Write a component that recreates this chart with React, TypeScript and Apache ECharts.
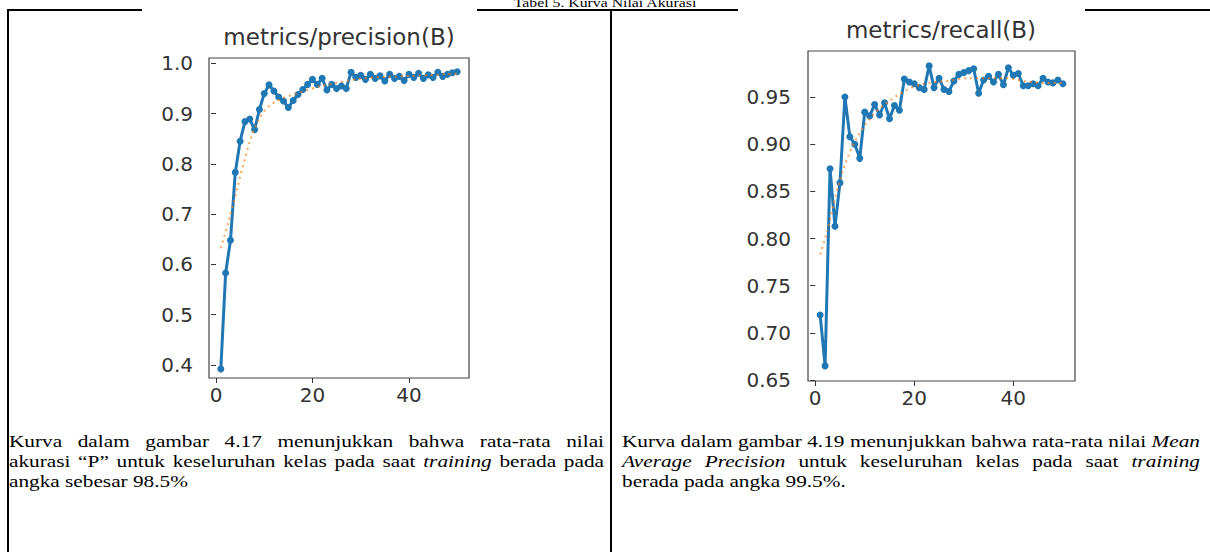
import React, { useEffect, useRef } from "react";
import * as echarts from "echarts";

const epochs = [
  1, 2, 3, 4, 5, 6, 7, 8, 9, 10, 11, 12, 13, 14, 15, 16, 17, 18, 19, 20, 21, 22, 23, 24, 25,
  26, 27, 28, 29, 30, 31, 32, 33, 34, 35, 36, 37, 38, 39, 40, 41, 42, 43, 44, 45, 46, 47, 48, 49, 50,
];

const precision = [
  0.392, 0.583, 0.648, 0.783, 0.845, 0.884, 0.889, 0.868, 0.908, 0.94,
  0.957, 0.945, 0.933, 0.925, 0.912, 0.926, 0.938, 0.948, 0.958, 0.968,
  0.958, 0.97, 0.947, 0.958, 0.95, 0.955, 0.95, 0.982, 0.972, 0.976,
  0.968, 0.978, 0.97, 0.975, 0.965, 0.978, 0.97, 0.974, 0.966, 0.978,
  0.972, 0.98, 0.97, 0.977, 0.972, 0.982, 0.974, 0.978, 0.981, 0.983,
];

const precisionSmooth = [
  0.632, 0.665, 0.7, 0.735, 0.775, 0.81, 0.845, 0.87, 0.89, 0.905,
  0.915, 0.922, 0.927, 0.931, 0.935, 0.938, 0.941, 0.944, 0.947, 0.95,
  0.953, 0.955, 0.957, 0.959, 0.961, 0.963, 0.965, 0.966, 0.968, 0.969,
  0.97, 0.971, 0.972, 0.972, 0.973, 0.973, 0.973, 0.974, 0.974, 0.975,
  0.975, 0.976, 0.976, 0.976, 0.977, 0.977, 0.978, 0.978, 0.979, 0.979,
];

const recall = [
  0.719, 0.665, 0.874, 0.813, 0.859, 0.95, 0.908, 0.9, 0.885, 0.934,
  0.93, 0.942, 0.931, 0.944, 0.927, 0.941, 0.936, 0.969, 0.966, 0.964,
  0.96, 0.958, 0.983, 0.96, 0.97, 0.958, 0.956, 0.967, 0.974, 0.976,
  0.978, 0.98, 0.954, 0.968, 0.972, 0.966, 0.974, 0.963, 0.981, 0.973,
  0.975, 0.962, 0.962, 0.964, 0.962, 0.97, 0.966, 0.965, 0.968, 0.964,
];

const recallSmooth = [
  0.783, 0.8, 0.82, 0.843, 0.862, 0.878, 0.892, 0.903, 0.912, 0.92,
  0.927, 0.933, 0.938, 0.942, 0.946, 0.95, 0.953, 0.956, 0.959, 0.961,
  0.963, 0.964, 0.965, 0.966, 0.966, 0.967, 0.967, 0.968, 0.969, 0.97,
  0.97, 0.97, 0.97, 0.97, 0.97, 0.97, 0.97, 0.97, 0.97, 0.969,
  0.968, 0.967, 0.966, 0.966, 0.965, 0.965, 0.965, 0.965, 0.965, 0.965,
];

const epochTicks = [0, 20, 40];
const precisionTicks = [0.4, 0.5, 0.6, 0.7, 0.8, 0.9, 1.0];
const recallTicks = [0.65, 0.7, 0.75, 0.8, 0.85, 0.9, 0.95];

const tableTitle = "Tabel 5. Kurva Nilai Akurasi";
const chartTitles = ["metrics/precision(B)", "metrics/recall(B)"];

const BLUE = "#1f77b4";
const ORANGE = "#ff7f0e";
const INK = "#333333";
const LABEL_FONT = "'DejaVu Sans', sans-serif";
const SERIF = "'Liberation Serif', 'Times New Roman', serif";
const STRETCH = 1.215;

const pairs = (ys: number[]) => epochs.map((e, i) => [e, ys[i]]);

function xAxisFor(gridIndex: number) {
  return {
    type: "value",
    gridIndex,
    min: -1.45,
    max: 52.45,
    splitLine: { show: false },
    axisLine: { show: false },
    axisTick: { show: true, length: 5, lineStyle: { color: INK, width: 1 }, customValues: epochTicks },
    axisLabel: {
      customValues: epochTicks,
      margin: 7,
      color: INK,
      fontSize: 20,
      fontFamily: LABEL_FONT,
    },
  };
}

function yAxisFor(gridIndex: number, min: number, max: number, ticks: number[], decimals: number, margin: number) {
  return {
    type: "value",
    gridIndex,
    min,
    max,
    splitLine: { show: false },
    axisLine: { show: false },
    axisTick: { show: true, length: 5, lineStyle: { color: INK, width: 1 }, customValues: ticks },
    axisLabel: {
      customValues: ticks,
      margin,
      color: INK,
      fontSize: 20,
      fontFamily: LABEL_FONT,
      formatter: (v: number) => v.toFixed(decimals),
    },
  };
}

function mainSeries(idx: number, ys: number[]) {
  return {
    type: "line",
    xAxisIndex: idx,
    yAxisIndex: idx,
    data: pairs(ys),
    symbol: "circle",
    symbolSize: 7,
    showSymbol: true,
    lineStyle: { color: BLUE, width: 3 },
    itemStyle: { color: BLUE },
    z: 2,
  };
}

function smoothSeries(idx: number, ys: number[]) {
  return {
    type: "line",
    xAxisIndex: idx,
    yAxisIndex: idx,
    data: pairs(ys),
    symbol: "none",
    lineStyle: { color: ORANGE, width: 2, type: [2, 4], opacity: 0.7 },
    z: 3,
  };
}

const hLine = (x1: number, x2: number, y: number) => ({
  type: "line",
  shape: { x1, y1: y, x2, y2: y },
  style: { stroke: "#000", lineWidth: 2 },
});
const vLine = (x: number, y1: number, y2: number) => ({
  type: "line",
  shape: { x1: x, y1, x2: x, y2 },
  style: { stroke: "#000", lineWidth: 2 },
});

const option = {
  animation: false,
  backgroundColor: "#ffffff",
  grid: [
    { left: 209, top: 58, width: 260, height: 320, show: true, borderColor: "#444", borderWidth: 1.2, backgroundColor: "transparent" },
    { left: 808, top: 51, width: 267, height: 330, show: true, borderColor: "#444", borderWidth: 1.2, backgroundColor: "transparent" },
  ],
  xAxis: [xAxisFor(0), xAxisFor(1)],
  yAxis: [
    yAxisFor(0, 0.3741, 1.0105, precisionTicks, 1, 16),
    yAxisFor(1, 0.649, 0.9988, recallTicks, 2, 17),
  ],
  series: [
    mainSeries(0, precision),
    smoothSeries(0, precisionSmooth),
    mainSeries(1, recall),
    smoothSeries(1, recallSmooth),
  ],
  graphic: [
    hLine(7, 142, 10),
    hLine(477, 738, 10),
    hLine(1085, 1210, 10),
    vLine(8, 9, 552),
    vLine(611, 9, 552),
    {
      type: "text",
      x: 605,
      y: 9,
      scaleX: STRETCH,
      originX: 0,
      originY: 0,
      style: { text: tableTitle, font: `13px ${SERIF}`, fill: "#000", align: "center", verticalAlign: "bottom" },
    },
    {
      type: "text",
      x: 339,
      y: 37,
      style: { text: chartTitles[0], font: `23px ${LABEL_FONT}`, fill: INK, align: "center", verticalAlign: "middle" },
    },
    {
      type: "text",
      x: 941,
      y: 30,
      style: { text: chartTitles[1], font: `23px ${LABEL_FONT}`, fill: INK, align: "center", verticalAlign: "middle" },
    },
  ],
};

const lineJustify: React.CSSProperties = {
  height: 20,
  lineHeight: "20px",
  textAlign: "justify",
  textAlignLast: "justify",
  whiteSpace: "nowrap",
};
const lineLeft: React.CSSProperties = { height: 20, lineHeight: "20px", textAlign: "left", whiteSpace: "nowrap" };

export default function App() {
  const ref = useRef<HTMLDivElement>(null);
  useEffect(() => {
    const chart = echarts.init(ref.current as HTMLDivElement, null, { renderer: "svg" });
    chart.setOption(option as any);
    return () => chart.dispose();
  }, []);
  const captionBase = (left: number, width: number): React.CSSProperties => ({
    position: "absolute",
    left,
    top: 431,
    width: width / STRETCH,
    fontFamily: SERIF,
    fontSize: 17.5,
    color: "#000",
    transform: `scaleX(${STRETCH})`,
    transformOrigin: "0 0",
  });
  return (
    <div style={{ position: "fixed", left: 0, top: 0, width: 1210, height: 552, background: "#fff", overflow: "hidden" }}>
      <div ref={ref} style={{ position: "absolute", left: 0, top: 0, width: 1210, height: 552 }} />
      <div style={captionBase(9, 595)}>
        <div style={lineJustify}>Kurva dalam gambar 4.17 menunjukkan bahwa rata-rata nilai</div>
        <div style={lineJustify}>
          akurasi “P” untuk keseluruhan kelas pada saat <i>training</i> berada pada
        </div>
        <div style={lineLeft}>angka sebesar 98.5%</div>
      </div>
      <div style={captionBase(622, 578)}>
        <div style={lineJustify}>
          Kurva dalam gambar 4.19 menunjukkan bahwa rata-rata nilai <i>Mean</i>
        </div>
        <div style={lineJustify}>
          <i>Average Precision</i> untuk keseluruhan kelas pada saat <i>training</i>
        </div>
        <div style={lineLeft}>berada pada angka 99.5%.</div>
      </div>
    </div>
  );
}
